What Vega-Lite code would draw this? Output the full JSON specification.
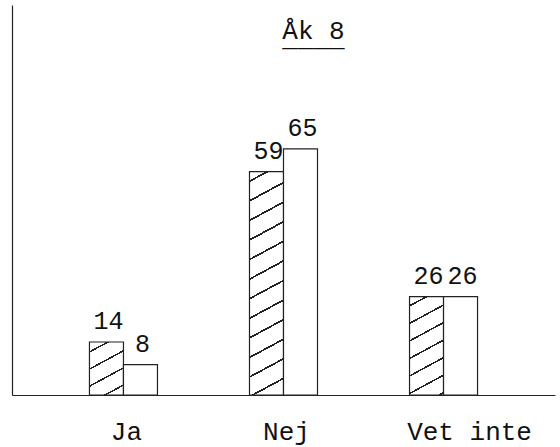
{
  "$schema": "https://vega.github.io/schema/vega-lite/v6.json",
  "width": 543,
  "height": 390,
  "autosize": {"type": "none"},
  "padding": {"left": 12, "top": 5, "right": 5, "bottom": 52},
  "background": "white",
  "config": {
    "view": {"stroke": null},
    "font": "Liberation Mono",
    "axis": {"domainColor": "#222", "domainWidth": 1.2, "grid": false, "ticks": false, "title": null}
  },
  "title": {
    "text": ["Åk 8", "____"],
    "lineHeight": 7,
    "orient": "top",
    "anchor": "middle",
    "frame": "group",
    "baseline": "alphabetic",
    "offset": -67,
    "dx": 30,
    "font": "Liberation Mono",
    "fontSize": 26,
    "fontWeight": "normal",
    "color": "#111"
  },
  "data": {
    "values": [
      {"svar": "Ja", "grupp": "1", "procent": 14},
      {"svar": "Ja", "grupp": "2", "procent": 8},
      {"svar": "Nej", "grupp": "1", "procent": 59},
      {"svar": "Nej", "grupp": "2", "procent": 65},
      {"svar": "Vet inte", "grupp": "1", "procent": 26},
      {"svar": "Vet inte", "grupp": "2", "procent": 26}
    ]
  },
  "encoding": {
    "x": {
      "field": "svar",
      "type": "nominal",
      "sort": ["Ja", "Nej", "Vet inte"],
      "scale": {"paddingInner": 0.575, "paddingOuter": 0.484},
      "axis": {
        "labelAngle": 0,
        "labelFontSize": 26,
        "labelFont": "Liberation Mono",
        "labelColor": "#111",
        "labelBaseline": "alphabetic",
        "labelPadding": 44,
        "labelOffset": {"condition": {"test": "datum.value === 'Vet inte'", "value": 26}, "value": 3}
      }
    },
    "xOffset": {"field": "grupp", "type": "nominal", "scale": {"paddingInner": 0, "paddingOuter": 0}},
    "y": {
      "field": "procent",
      "type": "quantitative",
      "scale": {"domain": [0, 103], "nice": false},
      "axis": {"labels": false, "ticks": false, "grid": false, "title": null}
    }
  },
  "layer": [
    {
      "mark": {"type": "bar", "stroke": "#222", "strokeWidth": 1.2},
      "encoding": {
        "fill": {
          "condition": [
            {
              "test": "datum.svar === 'Ja' && datum.grupp === '1'",
              "value": {
                "gradient": "linear", "x1": 0, "y1": 0, "x2": 0.41629, "y2": 1.2021,
                "stops": [
                  {"offset": 0, "color": "white"},
                  {"offset": 0.128, "color": "white"}, {"offset": 0.128, "color": "#222"}, {"offset": 0.152, "color": "#222"}, {"offset": 0.152, "color": "white"},
                  {"offset": 0.368, "color": "white"}, {"offset": 0.368, "color": "#222"}, {"offset": 0.392, "color": "#222"}, {"offset": 0.392, "color": "white"},
                  {"offset": 0.608, "color": "white"}, {"offset": 0.608, "color": "#222"}, {"offset": 0.632, "color": "#222"}, {"offset": 0.632, "color": "white"},
                  {"offset": 0.848, "color": "white"}, {"offset": 0.848, "color": "#222"}, {"offset": 0.872, "color": "#222"}, {"offset": 0.872, "color": "white"},
                  {"offset": 1, "color": "white"}
                ]
              }
            },
            {
              "test": "datum.svar === 'Nej' && datum.grupp === '1'",
              "value": {
                "gradient": "linear", "x1": 0, "y1": 0, "x2": 0.08815, "y2": 1.0748,
                "stops": [
                  {"offset": 0, "color": "white"},
                  {"offset": 0.036, "color": "white"}, {"offset": 0.036, "color": "#222"}, {"offset": 0.044, "color": "#222"}, {"offset": 0.044, "color": "white"},
                  {"offset": 0.117, "color": "white"}, {"offset": 0.117, "color": "#222"}, {"offset": 0.125, "color": "#222"}, {"offset": 0.125, "color": "white"},
                  {"offset": 0.198, "color": "white"}, {"offset": 0.198, "color": "#222"}, {"offset": 0.206, "color": "#222"}, {"offset": 0.206, "color": "white"},
                  {"offset": 0.279, "color": "white"}, {"offset": 0.279, "color": "#222"}, {"offset": 0.287, "color": "#222"}, {"offset": 0.287, "color": "white"},
                  {"offset": 0.360, "color": "white"}, {"offset": 0.360, "color": "#222"}, {"offset": 0.368, "color": "#222"}, {"offset": 0.368, "color": "white"},
                  {"offset": 0.441, "color": "white"}, {"offset": 0.441, "color": "#222"}, {"offset": 0.449, "color": "#222"}, {"offset": 0.449, "color": "white"},
                  {"offset": 0.522, "color": "white"}, {"offset": 0.522, "color": "#222"}, {"offset": 0.530, "color": "#222"}, {"offset": 0.530, "color": "white"},
                  {"offset": 0.603, "color": "white"}, {"offset": 0.603, "color": "#222"}, {"offset": 0.611, "color": "#222"}, {"offset": 0.611, "color": "white"},
                  {"offset": 0.684, "color": "white"}, {"offset": 0.684, "color": "#222"}, {"offset": 0.692, "color": "#222"}, {"offset": 0.692, "color": "white"},
                  {"offset": 0.765, "color": "white"}, {"offset": 0.765, "color": "#222"}, {"offset": 0.773, "color": "#222"}, {"offset": 0.773, "color": "white"},
                  {"offset": 0.846, "color": "white"}, {"offset": 0.846, "color": "#222"}, {"offset": 0.854, "color": "#222"}, {"offset": 0.854, "color": "white"},
                  {"offset": 0.927, "color": "white"}, {"offset": 0.927, "color": "#222"}, {"offset": 0.935, "color": "#222"}, {"offset": 0.935, "color": "white"},
                  {"offset": 1, "color": "white"}
                ]
              }
            },
            {
              "test": "datum.svar === 'Vet inte' && datum.grupp === '1'",
              "value": {
                "gradient": "linear", "x1": 0, "y1": 0, "x2": 0.21447, "y2": 1.1469,
                "stops": [
                  {"offset": 0, "color": "white"},
                  {"offset": 0.0725, "color": "white"}, {"offset": 0.0725, "color": "#222"}, {"offset": 0.0875, "color": "#222"}, {"offset": 0.0875, "color": "white"},
                  {"offset": 0.2225, "color": "white"}, {"offset": 0.2225, "color": "#222"}, {"offset": 0.2375, "color": "#222"}, {"offset": 0.2375, "color": "white"},
                  {"offset": 0.3725, "color": "white"}, {"offset": 0.3725, "color": "#222"}, {"offset": 0.3875, "color": "#222"}, {"offset": 0.3875, "color": "white"},
                  {"offset": 0.5225, "color": "white"}, {"offset": 0.5225, "color": "#222"}, {"offset": 0.5375, "color": "#222"}, {"offset": 0.5375, "color": "white"},
                  {"offset": 0.6725, "color": "white"}, {"offset": 0.6725, "color": "#222"}, {"offset": 0.6875, "color": "#222"}, {"offset": 0.6875, "color": "white"},
                  {"offset": 0.8225, "color": "white"}, {"offset": 0.8225, "color": "#222"}, {"offset": 0.8375, "color": "#222"}, {"offset": 0.8375, "color": "white"},
                  {"offset": 0.9725, "color": "white"}, {"offset": 0.9725, "color": "#222"}, {"offset": 0.9875, "color": "#222"}, {"offset": 0.9875, "color": "white"},
                  {"offset": 1, "color": "white"}
                ]
              }
            }
          ],
          "value": "white"
        }
      }
    },
    {
      "mark": {"type": "text", "baseline": "alphabetic", "dy": -13, "dx": 2, "fontSize": 25, "font": "Liberation Mono", "color": "#111"},
      "encoding": {"text": {"field": "procent", "type": "quantitative"}}
    }
  ]
}
